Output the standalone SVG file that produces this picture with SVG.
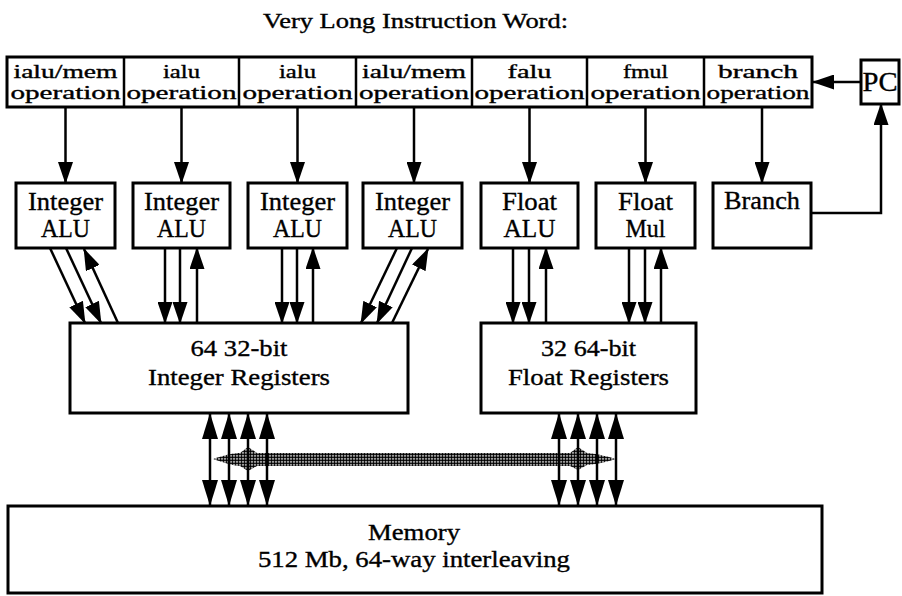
<svg xmlns="http://www.w3.org/2000/svg" width="902" height="596" viewBox="0 0 902 596">
<style>
.t{font-family:"Liberation Serif","Times New Roman",Tinos,serif;fill:#000;text-anchor:middle;stroke:#000;stroke-width:0.35}
.op{font-size:18px}
.fu{font-size:26px}
.rg{font-size:24px}
.box{fill:#fff;stroke:#000;stroke-width:3}
.ln{stroke:#000;stroke-width:2.5;fill:none}
</style>
<defs>
<marker id="ah" viewBox="0 0 22 15" markerWidth="22" markerHeight="15" refX="21" refY="7.5" orient="auto-start-reverse" markerUnits="userSpaceOnUse"><path d="M0,0 L22,7.5 L0,15 z" fill="#000"/></marker>
<marker id="bh" viewBox="0 0 26 16" markerWidth="26" markerHeight="16" refX="25" refY="8" orient="auto-start-reverse" markerUnits="userSpaceOnUse"><path d="M0,0 L26,8 L0,16 z" fill="#000"/></marker>
<pattern id="dots" width="3" height="3" patternUnits="userSpaceOnUse"><rect width="3" height="3" fill="#fff"/><circle cx="1.5" cy="1.5" r="1.45" fill="#000"/></pattern>
</defs>
<rect width="902" height="596" fill="#fff"/>
<g id="title"><text class="t" x="415.5" y="28" font-size="21" stroke-width="0.2" textLength="305" lengthAdjust="spacingAndGlyphs">Very Long Instruction Word:</text></g>
<g id="instruction-word">
<rect class="box" x="7" y="57" width="805" height="50"/>
<path class="ln" stroke-width="3" d="M124,57V107M239,57V107M356,57V107M472,57V107M587,57V107M704,57V107"/>
</g>
<g id="op1"><text class="t op" x="65.5" y="78" textLength="104" lengthAdjust="spacingAndGlyphs">ialu/mem</text><text class="t op" x="65.5" y="99" textLength="110" lengthAdjust="spacingAndGlyphs">operation</text></g>
<g id="op2"><text class="t op" x="181.5" y="78" textLength="37" lengthAdjust="spacingAndGlyphs">ialu</text><text class="t op" x="181.5" y="99" textLength="110" lengthAdjust="spacingAndGlyphs">operation</text></g>
<g id="op3"><text class="t op" x="297.5" y="78" textLength="37" lengthAdjust="spacingAndGlyphs">ialu</text><text class="t op" x="297.5" y="99" textLength="110" lengthAdjust="spacingAndGlyphs">operation</text></g>
<g id="op4"><text class="t op" x="414" y="78" textLength="104" lengthAdjust="spacingAndGlyphs">ialu/mem</text><text class="t op" x="414" y="99" textLength="110" lengthAdjust="spacingAndGlyphs">operation</text></g>
<g id="op5"><text class="t op" x="529.5" y="78" textLength="44" lengthAdjust="spacingAndGlyphs">falu</text><text class="t op" x="529.5" y="99" textLength="110" lengthAdjust="spacingAndGlyphs">operation</text></g>
<g id="op6"><text class="t op" x="645.5" y="78" textLength="45" lengthAdjust="spacingAndGlyphs">fmul</text><text class="t op" x="645.5" y="99" textLength="110" lengthAdjust="spacingAndGlyphs">operation</text></g>
<g id="op7"><text class="t op" x="758" y="78" textLength="80" lengthAdjust="spacingAndGlyphs">branch</text><text class="t op" x="758" y="99" textLength="103" lengthAdjust="spacingAndGlyphs">operation</text></g>
<g id="pc"><rect class="box" x="861" y="60" width="38" height="44"/><text class="t" x="880" y="91" font-size="27" textLength="35" lengthAdjust="spacingAndGlyphs">PC</text></g>
<g id="ialu1"><rect class="box" x="16" y="183" width="99" height="65"/><text class="t fu" x="65.5" y="210" textLength="75" lengthAdjust="spacingAndGlyphs">Integer</text><text class="t fu" x="65.5" y="237" textLength="49" lengthAdjust="spacingAndGlyphs">ALU</text></g>
<g id="ialu2"><rect class="box" x="133" y="183" width="97" height="65"/><text class="t fu" x="181.5" y="210" textLength="75" lengthAdjust="spacingAndGlyphs">Integer</text><text class="t fu" x="181.5" y="237" textLength="49" lengthAdjust="spacingAndGlyphs">ALU</text></g>
<g id="ialu3"><rect class="box" x="248" y="183" width="99" height="65"/><text class="t fu" x="297.5" y="210" textLength="75" lengthAdjust="spacingAndGlyphs">Integer</text><text class="t fu" x="297.5" y="237" textLength="49" lengthAdjust="spacingAndGlyphs">ALU</text></g>
<g id="ialu4"><rect class="box" x="363" y="183" width="99" height="65"/><text class="t fu" x="412.5" y="210" textLength="75" lengthAdjust="spacingAndGlyphs">Integer</text><text class="t fu" x="412.5" y="237" textLength="49" lengthAdjust="spacingAndGlyphs">ALU</text></g>
<g id="falu"><rect class="box" x="481" y="183" width="97" height="65"/><text class="t fu" x="529.5" y="210" textLength="55" lengthAdjust="spacingAndGlyphs">Float</text><text class="t fu" x="529.5" y="237" textLength="52" lengthAdjust="spacingAndGlyphs">ALU</text></g>
<g id="fmul"><rect class="box" x="596" y="183" width="99" height="65"/><text class="t fu" x="645.5" y="210" textLength="55" lengthAdjust="spacingAndGlyphs">Float</text><text class="t fu" x="645.5" y="237" textLength="40" lengthAdjust="spacingAndGlyphs">Mul</text></g>
<g id="branch"><rect class="box" x="713" y="183" width="98" height="65"/><text class="t fu" x="762" y="209" textLength="76" lengthAdjust="spacingAndGlyphs">Branch</text></g>
<g id="int-regs"><rect class="box" x="70" y="323" width="338" height="90"/><text class="t rg" x="239" y="356" textLength="97" lengthAdjust="spacingAndGlyphs">64 32-bit</text><text class="t rg" x="239" y="385" textLength="182" lengthAdjust="spacingAndGlyphs">Integer Registers</text></g>
<g id="float-regs"><rect class="box" x="481" y="323" width="215" height="90"/><text class="t rg" x="588.5" y="356" textLength="95" lengthAdjust="spacingAndGlyphs">32 64-bit</text><text class="t rg" x="588.5" y="385" textLength="161" lengthAdjust="spacingAndGlyphs">Float Registers</text></g>
<g id="memory"><rect class="box" x="8" y="506" width="814" height="87"/><text class="t" stroke-width="0.1" x="414" y="540" font-size="23" textLength="92" lengthAdjust="spacingAndGlyphs">Memory</text><text class="t" stroke-width="0.1" x="414" y="567" font-size="23" textLength="312" lengthAdjust="spacingAndGlyphs">512 Mb, 64-way interleaving</text></g>
<g id="bus"><path d="M213,459 C225,455 234,453 240,453 L248,447 L257,453 L570,453 L578,447 L587,453 C599,454 609,457 616,459 C609,461 599,464 587,465 L578,470 L570,466 L257,466 L248,471 L240,466 C234,466 225,463 213,459 Z" fill="url(#dots)"/></g>
<g id="connectors">
<g class="ln" marker-end="url(#ah)">
<line x1="65.5" y1="107" x2="65.5" y2="183"/>
<line x1="181.5" y1="107" x2="181.5" y2="183"/>
<line x1="297.5" y1="107" x2="297.5" y2="183"/>
<line x1="414" y1="107" x2="414" y2="183"/>
<line x1="529.5" y1="107" x2="529.5" y2="183"/>
<line x1="645.5" y1="107" x2="645.5" y2="183"/>
<line x1="762" y1="107" x2="762" y2="183"/>
<line x1="861" y1="82" x2="813" y2="82"/>
<polyline points="811,213 881,213 881,104"/>
<line x1="50" y1="248" x2="85" y2="323"/>
<line x1="66" y1="248" x2="101" y2="323"/>
<line x1="118" y1="323" x2="84" y2="249"/>
<line x1="165" y1="248" x2="165" y2="323"/>
<line x1="180" y1="248" x2="180" y2="323"/>
<line x1="197" y1="323" x2="197" y2="248"/>
<line x1="282" y1="248" x2="282" y2="323"/>
<line x1="297" y1="248" x2="297" y2="323"/>
<line x1="313" y1="323" x2="313" y2="248"/>
<line x1="397" y1="248" x2="361" y2="323"/>
<line x1="412" y1="248" x2="377" y2="323"/>
<line x1="392" y1="323" x2="428" y2="249"/>
<line x1="513" y1="248" x2="513" y2="323"/>
<line x1="529" y1="248" x2="529" y2="323"/>
<line x1="546" y1="323" x2="546" y2="248"/>
<line x1="629" y1="248" x2="629" y2="323"/>
<line x1="645" y1="248" x2="645" y2="323"/>
<line x1="661" y1="323" x2="661" y2="248"/>
</g>
<g class="ln" marker-start="url(#bh)" marker-end="url(#bh)">
<line x1="210" y1="414" x2="210" y2="505"/>
<line x1="229" y1="414" x2="229" y2="505"/>
<line x1="248" y1="414" x2="248" y2="505"/>
<line x1="267" y1="414" x2="267" y2="505"/>
<line x1="559" y1="414" x2="559" y2="505"/>
<line x1="578" y1="414" x2="578" y2="505"/>
<line x1="597" y1="414" x2="597" y2="505"/>
<line x1="616" y1="414" x2="616" y2="505"/>
</g>
</g>
</svg>
